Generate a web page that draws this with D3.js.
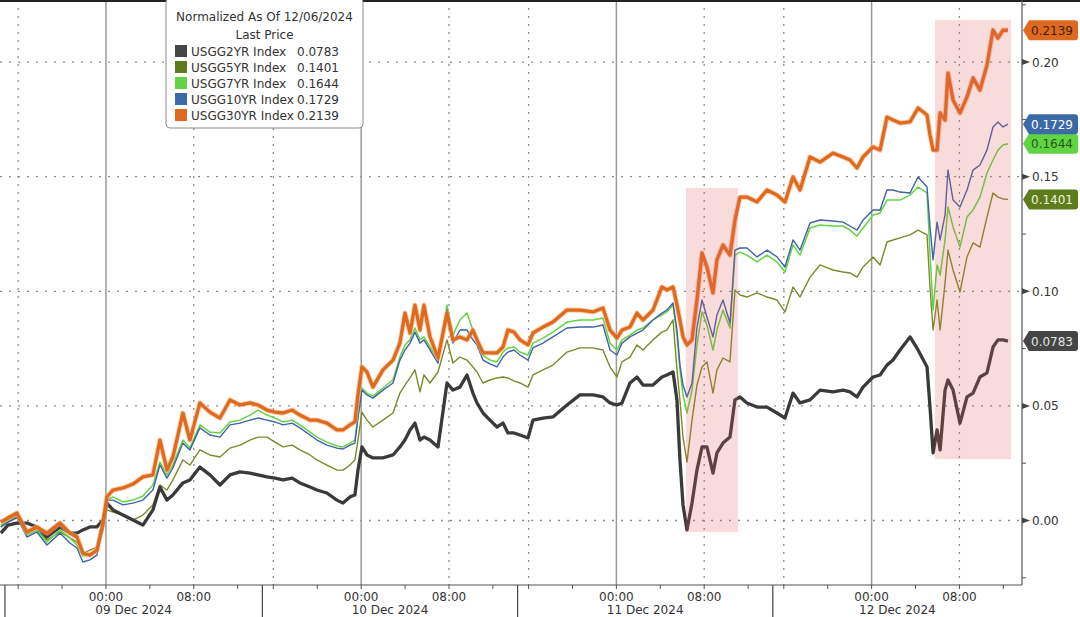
<!DOCTYPE html>
<html>
<head>
<meta charset="utf-8">
<script src="https://cdn.jsdelivr.net/npm/d3@7"></script>
<style>
  body { margin: 0; background: #fff; }
  svg { display: block; font-family: "DejaVu Sans", sans-serif; }
</style>
</head>
<body>
<div id="chart"></div>
<script>
// hours since 09 Dec 2024 00:00, one entry per sample
const hours = [
  -9.57, -8.93, -8.11, -7.2, -6.29, -5.37, -4.19, -3.28, -2.64, -2.1, -1.46, -0.82, -0.27, 0.09, 0.64, 1.55,
  2.46, 3.37, 4.28, 4.92, 5.56, 6.1, 7.01, 7.65, 8.56, 9.47, 10.39, 11.3, 12.21, 13.12, 13.85,
  15.42, 16.15, 16.88, 17.71, 18.42, 19.34, 19.97, 20.88, 21.79, 22.34, 22.98, 23.43, 23.71, 24.07, 24.53,
  25.07, 25.99, 26.9, 27.53, 27.99, 28.45, 28.9, 29.36, 29.72, 30.27, 31.0, 31.82, 32.36, 33.0, 33.64,
  34.18, 34.55, 35.1, 35.73, 36.37, 36.92, 37.37, 37.92,
  39.22, 39.95, 40.4, 41.31, 42.22, 43.5, 44.68, 45.87, 46.78, 47.42, 48.05, 48.51, 49.24, 49.88, 50.42,
  51.33, 52.15, 52.6, 53.16, 53.52, 53.79, 54.07, 54.43, 54.89, 55.34, 55.8, 56.25, 56.8, 57.16, 57.71,
  58.35, 58.8, 59.26, 59.89, 60.81, 61.72,
  63.38, 64.11, 64.84, 65.48, 66.39, 67.3, 68.48, 69.4, 70.03, 70.67, 71.22, 72.13, 72.77, 73.4, 73.95,
  74.59, 75.5, 76.23, 77.05, 77.32, 77.6, 77.96, 78.24, 78.69, 78.96, 79.42, 80.05, 80.69, 81.24, 81.87,
  82.51, 83.06, 83.51, 83.97, 84.42
];

const usgg2 = [
  -0.0055, -0.0020, -0.0011, -0.0011, -0.0028, -0.0072, -0.0028, -0.0055, -0.0055, -0.0041,
  -0.0028, -0.0028, 0.0002, 0.0076, 0.0046, 0.0024, 0.0002, -0.0020, 0.0046, 0.0146,
  0.0089, 0.0111, 0.0164, 0.0177, 0.0233, 0.0199, 0.0155, 0.0199, 0.0212, 0.0207, 0.0199,
  0.0190, 0.0185, 0.0177, 0.0185, 0.0164, 0.0146, 0.0133, 0.0120, 0.0089, 0.0076,
  0.0103, 0.0111, 0.0220, 0.0321, 0.0286, 0.0273, 0.0273, 0.0286, 0.0321, 0.0351,
  0.0395, 0.0425, 0.0351, 0.0364, 0.0351, 0.0321, 0.0600, 0.0569, 0.0582, 0.0635,
  0.0556, 0.0513, 0.0469, 0.0438, 0.0408, 0.0425, 0.0382, 0.0382,
  0.0373, 0.0360, 0.0438, 0.0447, 0.0452, 0.0504, 0.0548, 0.0548, 0.0539, 0.0513,
  0.0504, 0.0513, 0.0600, 0.0626, 0.0591, 0.0591, 0.0626, 0.0635, 0.0648, 0.0526,
  0.0264, 0.0068, -0.0041, 0.0076, 0.0220, 0.0321, 0.0321, 0.0207, 0.0295, 0.0338,
  0.0364, 0.0526, 0.0539, 0.0513, 0.0495, 0.0495,
  0.0469, 0.0447, 0.0556, 0.0513, 0.0526, 0.0569, 0.0561, 0.0569, 0.0561, 0.0539,
  0.0582, 0.0626, 0.0635, 0.0678, 0.0700, 0.0744, 0.0801, 0.0744, 0.0670, 0.0495,
  0.0295, 0.0395, 0.0308, 0.0569, 0.0613, 0.0569, 0.0425, 0.0539, 0.0556, 0.0626,
  0.0644, 0.0757, 0.0788, 0.0788, 0.0783
];

const usgg5 = [
  -0.0028, -0.0007, 0.0011, -0.0063, -0.0041, -0.0085, -0.0050, -0.0076, -0.0094, -0.0142,
  -0.0129, -0.0116, -0.0041, 0.0046, 0.0037, 0.0024, 0.0002, 0.0024, 0.0068, 0.0155,
  0.0133, 0.0177, 0.0264, 0.0242, 0.0308, 0.0286, 0.0277, 0.0316, 0.0329, 0.0351, 0.0364,
  0.0364, 0.0342, 0.0321, 0.0329, 0.0308, 0.0286, 0.0264, 0.0242, 0.0220, 0.0220,
  0.0242, 0.0264, 0.0351, 0.0473, 0.0438, 0.0408, 0.0438, 0.0469, 0.0556, 0.0591,
  0.0622, 0.0657, 0.0561, 0.0635, 0.0600, 0.0648, 0.0788, 0.0687, 0.0713, 0.0700,
  0.0670, 0.0648, 0.0600, 0.0613, 0.0622, 0.0626, 0.0622, 0.0609,
  0.0600, 0.0582, 0.0635, 0.0657, 0.0678, 0.0735, 0.0753, 0.0753, 0.0744, 0.0670,
  0.0626, 0.0692, 0.0713, 0.0766, 0.0744, 0.0788, 0.0822, 0.0831, 0.0875, 0.0657,
  0.0526, 0.0364, 0.0255, 0.0438, 0.0591, 0.0670, 0.0692, 0.0556, 0.0657, 0.0709,
  0.0692, 0.1006, 0.0984, 0.0975, 0.0993, 0.0975,
  0.0962, 0.0910, 0.1019, 0.0975, 0.1062, 0.1115, 0.1093, 0.1084, 0.1080, 0.1062,
  0.1106, 0.1150, 0.1115, 0.1215, 0.1224, 0.1233, 0.1246, 0.1267, 0.1246, 0.1019,
  0.0831, 0.0962, 0.0831, 0.1036, 0.1180, 0.1093, 0.0997, 0.1150, 0.1211, 0.1193,
  0.1324, 0.1429, 0.1411, 0.1403, 0.1401
];

const usgg7 = [
  -0.0020, 0.0002, 0.0020, -0.0063, -0.0041, -0.0094, -0.0041, -0.0076, -0.0107, -0.0155,
  -0.0151, -0.0129, -0.0020, 0.0089, 0.0103, 0.0081, 0.0089, 0.0107, 0.0155, 0.0255,
  0.0199, 0.0242, 0.0351, 0.0316, 0.0417, 0.0386, 0.0382, 0.0430, 0.0438, 0.0460, 0.0482,
  0.0460, 0.0447, 0.0430, 0.0438, 0.0417, 0.0386, 0.0364, 0.0342, 0.0325, 0.0321,
  0.0338, 0.0351, 0.0460, 0.0578, 0.0556, 0.0543, 0.0578, 0.0613, 0.0713, 0.0766,
  0.0788, 0.0840, 0.0788, 0.0801, 0.0757, 0.0700, 0.0940, 0.0809, 0.0875, 0.0905,
  0.0831, 0.0788, 0.0722, 0.0700, 0.0692, 0.0735, 0.0753, 0.0757,
  0.0735, 0.0722, 0.0774, 0.0796, 0.0822, 0.0866, 0.0875, 0.0875, 0.0884, 0.0774,
  0.0744, 0.0788, 0.0809, 0.0831, 0.0840, 0.0875, 0.0897, 0.0910, 0.0940, 0.0809,
  0.0657, 0.0548, 0.0469, 0.0569, 0.0766, 0.0910, 0.0853, 0.0744, 0.0831, 0.0918,
  0.0840, 0.1158, 0.1171, 0.1158, 0.1128, 0.1158,
  0.1128, 0.1084, 0.1202, 0.1158, 0.1276, 0.1289, 0.1285, 0.1285, 0.1267, 0.1241,
  0.1276, 0.1333, 0.1342, 0.1398, 0.1398, 0.1398, 0.1420, 0.1455, 0.1429, 0.1167,
  0.0918, 0.1115, 0.1071, 0.1224, 0.1368, 0.1281, 0.1193, 0.1324, 0.1355, 0.1411,
  0.1516, 0.1573, 0.1616, 0.1638, 0.1644
];

const usgg10 = [
  -0.0028, -0.0007, 0.0015, -0.0072, -0.0050, -0.0107, -0.0055, -0.0098, -0.0120, -0.0181,
  -0.0172, -0.0151, -0.0033, 0.0089, 0.0089, 0.0068, 0.0076, 0.0089, 0.0133, 0.0242,
  0.0185, 0.0229, 0.0338, 0.0308, 0.0404, 0.0373, 0.0364, 0.0417, 0.0425, 0.0438, 0.0447,
  0.0438, 0.0430, 0.0417, 0.0425, 0.0404, 0.0373, 0.0351, 0.0329, 0.0316, 0.0312,
  0.0329, 0.0338, 0.0447, 0.0569, 0.0548, 0.0534, 0.0569, 0.0600, 0.0700, 0.0744,
  0.0774, 0.0822, 0.0774, 0.0788, 0.0744, 0.0687, 0.0918, 0.0774, 0.0831, 0.0831,
  0.0788, 0.0766, 0.0700, 0.0683, 0.0670, 0.0713, 0.0735, 0.0744,
  0.0722, 0.0700, 0.0753, 0.0774, 0.0801, 0.0840, 0.0844, 0.0844, 0.0853, 0.0744,
  0.0722, 0.0774, 0.0801, 0.0818, 0.0831, 0.0875, 0.0905, 0.0918, 0.0949, 0.0831,
  0.0678, 0.0591, 0.0539, 0.0600, 0.0844, 0.0962, 0.0888, 0.0801, 0.0897, 0.0962,
  0.0862, 0.1180, 0.1189, 0.1189, 0.1150, 0.1180,
  0.1150, 0.1106, 0.1224, 0.1180, 0.1298, 0.1311, 0.1307, 0.1302, 0.1285, 0.1267,
  0.1311, 0.1355, 0.1355, 0.1442, 0.1442, 0.1433, 0.1429, 0.1499, 0.1455, 0.1281,
  0.1137, 0.1302, 0.1224, 0.1333, 0.1529, 0.1398, 0.1368, 0.1442, 0.1529, 0.1551,
  0.1616, 0.1717, 0.1739, 0.1717, 0.1729
];

const usgg30 = [
  -0.0007, 0.0011, 0.0033, -0.0050, -0.0028, -0.0055, -0.0011, -0.0055, -0.0072, -0.0142,
  -0.0151, -0.0129, -0.0011, 0.0103, 0.0133, 0.0142, 0.0159, 0.0190, 0.0199, 0.0351,
  0.0220, 0.0277, 0.0469, 0.0351, 0.0513, 0.0473, 0.0447, 0.0526, 0.0504, 0.0513, 0.0504,
  0.0482, 0.0473, 0.0469, 0.0482, 0.0460, 0.0438, 0.0438, 0.0425, 0.0395, 0.0395,
  0.0417, 0.0430, 0.0548, 0.0670, 0.0648, 0.0582, 0.0657, 0.0700, 0.0774, 0.0905,
  0.0818, 0.0940, 0.0831, 0.0940, 0.0801, 0.0709, 0.0905, 0.0788, 0.0801, 0.0788,
  0.0831, 0.0788, 0.0731, 0.0731, 0.0731, 0.0757, 0.0831, 0.0822,
  0.0788, 0.0766, 0.0818, 0.0844, 0.0866, 0.0918, 0.0918, 0.0910, 0.0927, 0.0831,
  0.0796, 0.0831, 0.0844, 0.0905, 0.0875, 0.0918, 0.1019, 0.1006, 0.1019, 0.0940,
  0.0875, 0.0801, 0.0766, 0.0788, 0.0962, 0.1167, 0.1106, 0.0993, 0.1137, 0.1202,
  0.1158, 0.1311, 0.1411, 0.1411, 0.1390, 0.1442,
  0.1420, 0.1390, 0.1499, 0.1442, 0.1586, 0.1564, 0.1603, 0.1586, 0.1573, 0.1538,
  0.1586, 0.1630, 0.1616, 0.1760, 0.1747, 0.1734, 0.1739, 0.1800, 0.1769, 0.1682,
  0.1616, 0.1616, 0.1778, 0.1747, 0.1952, 0.1835, 0.1778, 0.1848, 0.1931, 0.1878,
  0.1987, 0.2140, 0.2105, 0.2140, 0.2139
];

// trading sessions (hours since 09 Dec 00:00); the small daily breaks are squeezed out
const sessions = [[-9.65, 14.25], [15, 38.25], [39, 62.25], [63, 85.7]];
const dayBounds = [-9.2, 14.6, 38.6, 62.6, 85.7];
const dayLabels = ['09 Dec 2024', '10 Dec 2024', '11 Dec 2024', '12 Dec 2024'];

const yTicks = [0, 0.05, 0.1, 0.15, 0.2];
const yMinorTicks = [-0.025, 0.025, 0.075, 0.125, 0.175, 0.225];

// highlighted windows: [start hour, end hour, low, high]
const highlights = [[54.34, 59.07, -0.005, 0.1451], [77.78, 84.7, 0.0268, 0.2184]];

const series = [
  { name: 'USGG5YR Index', values: usgg5, color: '#7b8a2a', width: 1.4, swatch: '#5d7d1c', tagText: '#eef4dc' },
  { name: 'USGG7YR Index', values: usgg7, color: '#63d444', width: 1.5, swatch: '#62d444', tagText: '#1f5a12' },
  { name: 'USGG10YR Index', values: usgg10, color: '#3f62a8', width: 1.4, swatch: '#3b6aa6', tagText: '#ffffff' },
  { name: 'USGG2YR Index', values: usgg2, color: '#3a3a3a', width: 3.3, swatch: '#454545', tagText: '#e4e4e4' },
  { name: 'USGG30YR Index', values: usgg30, color: '#df6a1f', width: 3.3, swatch: '#dd6a20', tagText: '#4a1e05', halo: true },
];
const legendOrder = ['USGG2YR Index', 'USGG5YR Index', 'USGG7YR Index', 'USGG10YR Index', 'USGG30YR Index'];

const width = 1080;
const height = 617;
const plot = { left: 0, right: 1022, top: 0, bottom: 585 };

const base = Date.UTC(2024, 11, 9);
const toDate = h => new Date(base + h * 36e5);

// polylinear time scale: one linear piece per session
const totalH = d3.sum(sessions, s => s[1] - s[0]);
const k = (plot.right - plot.left) / totalH;
const xDomain = [];
const xRange = [];
let acc = 0;
sessions.forEach(s => {
  xDomain.push(toDate(s[0]), toDate(s[1]));
  xRange.push(plot.left + acc * k);
  acc += s[1] - s[0];
  xRange.push(plot.left + acc * k);
});
const x = d3.scaleUtc().domain(xDomain).range(xRange);
const y = d3.scaleLinear().domain([-0.02814, 0.2271]).range([plot.bottom, plot.top]);

const svg = d3
  .select('#chart')
  .append('svg')
  .attr('width', width)
  .attr('height', height);

svg.append('rect').attr('width', width).attr('height', height).attr('fill', '#fff');

// gridlines
const tickHours = d3
  .range(Math.ceil(sessions[0][0] / 4) * 4, sessions[sessions.length - 1][1], 4)
  .filter(h => sessions.some(s => h >= s[0] && h <= s[1]));

const grid = svg.append('g').attr('class', 'grid');
grid
  .selectAll('line.h')
  .data(yTicks)
  .join('line')
  .attr('class', 'h')
  .attr('x1', plot.left)
  .attr('x2', plot.right)
  .attr('y1', d => y(d))
  .attr('y2', d => y(d))
  .attr('stroke', '#8c8c8c')
  .attr('stroke-width', 1.3)
  .attr('stroke-dasharray', '2,7');

grid
  .selectAll('line.v')
  .data(tickHours.filter(h => ((h % 8) + 8) % 8 === 0))
  .join('line')
  .attr('class', 'v')
  .attr('x1', d => x(toDate(d)))
  .attr('x2', d => x(toDate(d)))
  .attr('y1', plot.top)
  .attr('y2', plot.bottom)
  .attr('stroke', d => (d % 24 === 0 ? '#9a9a9a' : '#8c8c8c'))
  .attr('stroke-width', d => (d % 24 === 0 ? 1.5 : 1.3))
  .attr('stroke-dasharray', d => (d % 24 === 0 ? null : '2,6'));

// lines
const line = d3
  .line()
  .x((d, i) => x(toDate(hours[i])))
  .y(d => y(d));

const lines = svg.append('g').attr('class', 'lines');
series.forEach(s => {
  if (s.halo) {
    lines
      .append('path')
      .attr('d', line(s.values))
      .attr('fill', 'none')
      .attr('stroke', '#f3b07a')
      .attr('stroke-opacity', 0.6)
      .attr('stroke-width', s.width + 2)
      .attr('stroke-linejoin', 'round');
  }
  lines
    .append('path')
    .attr('d', line(s.values))
    .attr('fill', 'none')
    .attr('stroke', s.color)
    .attr('stroke-width', s.width)
    .attr('stroke-linejoin', 'round');
});

// highlighted windows sit over the lines
svg
  .append('g')
  .selectAll('rect')
  .data(highlights)
  .join('rect')
  .attr('x', d => x(toDate(d[0])))
  .attr('width', d => x(toDate(d[1])) - x(toDate(d[0])))
  .attr('y', d => y(d[3]))
  .attr('height', d => y(d[2]) - y(d[3]))
  .attr('fill', 'rgb(222,90,90)')
  .attr('fill-opacity', 0.22);

// frame
const frame = svg.append('g').attr('class', 'frame');
frame.append('line').attr('x1', 0).attr('x2', width).attr('y1', 1).attr('y2', 1)
  .attr('stroke', '#222').attr('stroke-width', 2);
frame.append('line').attr('x1', plot.right).attr('x2', plot.right).attr('y1', plot.top).attr('y2', plot.bottom)
  .attr('stroke', '#555').attr('stroke-width', 1.2);
frame.append('line').attr('x1', plot.left).attr('x2', plot.right).attr('y1', plot.bottom).attr('y2', plot.bottom)
  .attr('stroke', '#555').attr('stroke-width', 1.2);

// x axis
const xAxis = svg.append('g').attr('class', 'x axis');
xAxis
  .selectAll('line.tick')
  .data(tickHours)
  .join('line')
  .attr('class', 'tick')
  .attr('x1', d => x(toDate(d)))
  .attr('x2', d => x(toDate(d)))
  .attr('y1', plot.bottom)
  .attr('y2', plot.bottom + 4)
  .attr('stroke', '#555');

const fmt = d3.utcFormat('%H:%M');
xAxis
  .selectAll('text.time')
  .data(tickHours.filter(h => ((h % 24) + 24) % 24 === 0 || ((h % 24) + 24) % 24 === 8))
  .join('text')
  .attr('class', 'time')
  .attr('x', d => x(toDate(d)))
  .attr('y', 600.5)
  .attr('text-anchor', 'middle')
  .attr('font-size', 12)
  .attr('fill', '#333')
  .text(d => fmt(toDate(d)));

xAxis
  .selectAll('line.sep')
  .data(dayBounds.slice(0, -1))
  .join('line')
  .attr('class', 'sep')
  .attr('x1', d => x(toDate(d)))
  .attr('x2', d => x(toDate(d)))
  .attr('y1', plot.bottom)
  .attr('y2', height)
  .attr('stroke', '#444')
  .attr('stroke-width', 1.2);

xAxis
  .selectAll('text.day')
  .data(dayLabels)
  .join('text')
  .attr('class', 'day')
  .attr('x', (d, i) => (x(toDate(dayBounds[i])) + x(toDate(dayBounds[i + 1]))) / 2)
  .attr('y', 613.5)
  .attr('text-anchor', 'middle')
  .attr('font-size', 12)
  .attr('fill', '#333')
  .text(d => d);

// y axis on the right
const yAxis = svg.append('g').attr('class', 'y axis');
yAxis
  .selectAll('path.tick')
  .data(yTicks)
  .join('path')
  .attr('class', 'tick')
  .attr('d', d => `M${plot.right},${y(d) - 3}L${plot.right + 8},${y(d)}L${plot.right},${y(d) + 3}Z`)
  .attr('fill', '#444');
yAxis
  .selectAll('line.minor')
  .data(yMinorTicks)
  .join('line')
  .attr('class', 'minor')
  .attr('x1', plot.right)
  .attr('x2', plot.right + 4)
  .attr('y1', d => y(d))
  .attr('y2', d => y(d))
  .attr('stroke', '#555');
yAxis
  .selectAll('text')
  .data(yTicks)
  .join('text')
  .attr('x', plot.right + 10)
  .attr('y', d => y(d) + 4.5)
  .attr('font-size', 12)
  .attr('fill', '#333')
  .text(d3.format('.2f'));

// last value tags
const tags = svg.append('g').attr('class', 'tags');
series.forEach(s => {
  const last = s.values[s.values.length - 1];
  const cy = y(last);
  const x0 = plot.right + 1;
  tags
    .append('path')
    .attr('d', `M${x0},${cy}L${x0 + 6},${cy - 10}H${x0 + 52}Q${x0 + 55},${cy - 10} ${x0 + 55},${cy - 7}V${cy + 7}Q${x0 + 55},${cy + 10} ${x0 + 52},${cy + 10}H${x0 + 6}Z`)
    .attr('fill', s.swatch);
  tags
    .append('text')
    .attr('x', x0 + 8)
    .attr('y', cy + 4.5)
    .attr('font-size', 12)
    .attr('fill', s.tagText)
    .text(d3.format('.4f')(last));
});

// legend
const legend = svg.append('g').attr('class', 'legend');
legend
  .append('rect')
  .attr('x', 166)
  .attr('y', -2)
  .attr('width', 197)
  .attr('height', 130)
  .attr('rx', 4)
  .attr('fill', '#fff')
  .attr('stroke', '#8a8a8a');
legend.append('text').attr('x', 264.5).attr('y', 21).attr('text-anchor', 'middle')
  .attr('font-size', 12).attr('fill', '#333').text('Normalized As Of 12/06/2024');
legend.append('text').attr('x', 264.5).attr('y', 38.5).attr('text-anchor', 'middle')
  .attr('font-size', 12).attr('fill', '#333').text('Last Price');

const rows = legendOrder.map(n => series.find(s => s.name === n));
const row = legend
  .selectAll('g.row')
  .data(rows)
  .join('g')
  .attr('class', 'row')
  .attr('transform', (d, i) => `translate(0,${51 + i * 16})`);
row.append('rect').attr('x', 175).attr('y', -6).attr('width', 12).attr('height', 12).attr('fill', d => d.swatch);
row.append('text').attr('x', 191).attr('y', 4.5).attr('font-size', 12).attr('fill', '#333').text(d => d.name);
row.append('text').attr('x', 297).attr('y', 4.5).attr('font-size', 12).attr('fill', '#333')
  .text(d => d3.format('.4f')(d.values[d.values.length - 1]));
</script>
</body>
</html>
